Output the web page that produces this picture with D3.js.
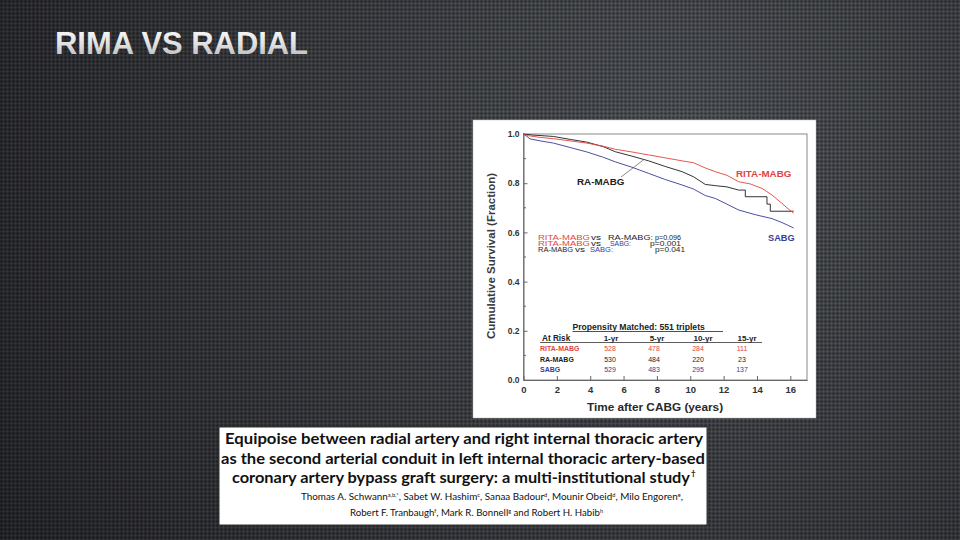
<!DOCTYPE html>
<html>
<head>
<meta charset="utf-8">
<script src="https://cdn.jsdelivr.net/npm/d3@7"></script>
<style>
  html, body { margin: 0; padding: 0; background: #2c2e33; }
  svg { display: block; }
</style>
</head>
<body>
<svg id="slide" width="960" height="540"></svg>
<script>
// survival curves, [years, fraction]
const ritaMabg = [[0,1],[0.3,0.993],[1,0.986],[1.8,0.981],[2.8,0.972],[3.8,0.963],[4.8,0.95],[5.5,0.938],
  [6.5,0.927],[7.5,0.915],[8.5,0.903],[9.5,0.891],[10.2,0.883],[10.9,0.862],[11.5,0.847],[12.2,0.832],
  [12.9,0.806],[13.6,0.797],[14.3,0.779],[14.9,0.752],[15.5,0.718],[15.8,0.7],[16.2,0.678]];
const raMabg = [[0,1],[0.5,0.996],[1.8,0.99],[2.8,0.978],[3.8,0.967],[4.8,0.948],[5.5,0.928],[6.5,0.91],
  [7.5,0.891],[8.5,0.868],[9.5,0.847],[10.2,0.826],[10.9,0.795],[11.5,0.79],[12.2,0.785],[12.9,0.772],
  [13.3,0.772],[13.3,0.745],[14.6,0.745],[14.6,0.715],[14.8,0.715],[14.8,0.686],[16.2,0.686]];
const sabg = [[0,1],[0.4,0.98],[1,0.972],[1.8,0.963],[2.8,0.945],[3.8,0.927],[4.8,0.905],[5.5,0.887],
  [6.5,0.865],[7.5,0.84],[8.5,0.815],[9.5,0.793],[10.2,0.776],[10.9,0.75],[11.5,0.738],[12.2,0.715],
  [12.9,0.691],[13.9,0.672],[14.9,0.656],[15.5,0.64],[16.2,0.618]];

const xTicks = [0, 2, 4, 6, 8, 10, 12, 14, 16];
const yTicks = [0, 0.2, 0.4, 0.6, 0.8, 1.0];
const yMinorTicks = [0.1, 0.3, 0.5, 0.7, 0.9];

// number at risk table
const riskGroups = ["RITA-MABG", "RA-MABG", "SABG"];
const riskYears = ["1-yr", "5-yr", "10-yr", "15-yr"];
const riskCounts = [[528, 478, 284, 111], [530, 484, 220, 23], [529, 483, 295, 137]];

// log-rank comparisons
const comparisons = [
  ["RITA-MABG", "RA-MABG", "p=0.096"],
  ["RITA-MABG", "SABG", "p=0.001"],
  ["RA-MABG", "SABG", "p=0.041"]
];

const titleLines = [
  "Equipoise between radial artery and right internal thoracic artery",
  "as the second arterial conduit in left internal thoracic artery-based",
  "coronary artery bypass graft surgery: a multi-institutional study"
];
const authorLines = [
  [["Thomas A. Schwann", "a,b,*"], [", Sabet W. Hashim", "c"], [", Sanaa Badour", "d"], [", Mounir Obeid", "d"], [", Milo Engoren", "e"], [",", ""]],
  [["Robert F. Tranbaugh", "f"], [", Mark R. Bonnell", "g"], [" and Robert H. Habib", "h"]]
];

const colors = { "RITA-MABG": "#e2453f", "RA-MABG": "#1e1e1e", "SABG": "#3a3d94" };

const svg = d3.select("#slide");

// background: dark carbon texture
const defs = svg.append("defs");
const bg = defs.append("radialGradient").attr("id", "bg")
  .attr("gradientUnits", "userSpaceOnUse")
  .attr("cx", 680).attr("cy", 150).attr("r", 780);
bg.append("stop").attr("offset", 0).attr("stop-color", "#515459");
bg.append("stop").attr("offset", 1).attr("stop-color", "#25262a");

const dots = defs.append("pattern").attr("id", "dots")
  .attr("width", 4).attr("height", 4).attr("patternUnits", "userSpaceOnUse");
dots.append("circle").attr("cx", 1.5).attr("cy", 1.5).attr("r", 1.2).attr("fill", "#000").attr("opacity", 0.4);
dots.append("circle").attr("cx", 3.5).attr("cy", 3.5).attr("r", 0.7).attr("fill", "#fff").attr("opacity", 0.06);

const silver = defs.append("linearGradient").attr("id", "silver")
  .attr("x1", 0).attr("y1", 0).attr("x2", 0).attr("y2", 1);
silver.append("stop").attr("offset", 0).attr("stop-color", "#ffffff");
silver.append("stop").attr("offset", 0.55).attr("stop-color", "#dedede");
silver.append("stop").attr("offset", 1).attr("stop-color", "#b0b0b0");

svg.append("rect").attr("width", 960).attr("height", 540).attr("fill", "url(#bg)");
svg.append("rect").attr("width", 960).attr("height", 540).attr("fill", "url(#dots)");

svg.append("text")
  .attr("x", 55).attr("y", 54)
  .attr("textLength", 253).attr("lengthAdjust", "spacingAndGlyphs")
  .attr("font-family", "Liberation Sans, Arial, sans-serif")
  .attr("font-size", 31).attr("font-weight", "bold")
  .attr("fill", "url(#silver)")
  .text("RIMA VS RADIAL");

// figure panel
svg.append("rect").attr("x", 473).attr("y", 120).attr("width", 343).attr("height", 298)
  .attr("fill", "#fff").attr("stroke", "#bbb").attr("stroke-width", 0.5);

const x = d3.scaleLinear().domain([0, 17]).range([523.5, 807]);
const y = d3.scaleLinear().domain([0, 1]).range([380, 134]);

const fig = svg.append("g").attr("font-family", "Liberation Sans, Arial, sans-serif");

// frame
fig.append("rect")
  .attr("x", x(0)).attr("y", y(1))
  .attr("width", x(17) - x(0)).attr("height", y(0) - y(1))
  .attr("fill", "none").attr("stroke", "#8a8a8a").attr("stroke-width", 1);

const xAxis = fig.append("g")
  .attr("transform", `translate(0,${y(0)})`)
  .call(d3.axisBottom(x).tickValues(xTicks).tickSizeInner(-4).tickSizeOuter(0).tickPadding(6));
xAxis.select(".domain").attr("stroke", "#666");
xAxis.selectAll(".tick line").attr("stroke", "#666");
xAxis.selectAll(".tick text")
  .attr("font-size", 9.5).attr("font-weight", "bold").attr("fill", "#333")
  .attr("font-family", "Liberation Sans, Arial, sans-serif");

const yAxis = fig.append("g")
  .attr("transform", `translate(${x(0)},0)`)
  .call(d3.axisLeft(y).tickValues(yTicks).tickFormat(d3.format(".1f"))
    .tickSizeInner(-4).tickSizeOuter(0).tickPadding(4));
yAxis.select(".domain").attr("stroke", "#666");
yAxis.selectAll(".tick line").attr("stroke", "#666");
yAxis.selectAll(".tick text")
  .attr("font-size", 8.5).attr("font-weight", "bold").attr("fill", "#333")
  .attr("font-family", "Liberation Sans, Arial, sans-serif");

fig.append("g").selectAll("line").data(yMinorTicks).join("line")
  .attr("x1", x(0)).attr("x2", x(0) + 2.5)
  .attr("y1", d => y(d)).attr("y2", d => y(d))
  .attr("stroke", "#666");

fig.append("text")
  .attr("transform", `translate(495,256) rotate(-90)`)
  .attr("text-anchor", "middle")
  .attr("font-size", 11.5).attr("font-weight", "bold").attr("fill", "#3a3a3a")
  .text("Cumulative Survival (Fraction)");

fig.append("text")
  .attr("x", 655).attr("y", 411)
  .attr("text-anchor", "middle")
  .attr("font-size", 11.8).attr("font-weight", "bold").attr("fill", "#2a2a2a")
  .text("Time after CABG (years)");

// curves
const line = d3.line().x(d => x(d[0])).y(d => y(d[1]));
const series = [["SABG", sabg], ["RA-MABG", raMabg], ["RITA-MABG", ritaMabg]];
fig.append("g").selectAll("path").data(series).join("path")
  .attr("d", d => line(d[1]))
  .attr("fill", "none")
  .attr("stroke", d => colors[d[0]])
  .attr("stroke-width", 1)
  .attr("opacity", 0.9);

// curve labels
fig.append("text").attr("x", 736).attr("y", 177)
  .attr("font-size", 9.8).attr("font-weight", "bold").attr("fill", colors["RITA-MABG"]).text("RITA-MABG");
fig.append("text").attr("x", 577).attr("y", 185)
  .attr("font-size", 9.8).attr("font-weight", "bold").attr("fill", "#222").text("RA-MABG");
fig.append("line")
  .attr("x1", 621).attr("y1", 177).attr("x2", x(7.2)).attr("y2", y(0.895))
  .attr("stroke", "#555").attr("stroke-width", 0.7);
fig.append("text").attr("x", 768).attr("y", 241)
  .attr("font-size", 9.2).attr("font-weight", "bold").attr("fill", colors["SABG"]).text("SABG");

// p values: each piece stretched to the width it has in the figure
const pRow = d3.scalePoint().domain(d3.range(comparisons.length)).range([239.5, 251.5]);
const pLayout = [
  [[538, 52], [591, 10], [608, 45], [655, 26]],
  [[538, 52], [591, 10], [610, 21], [650, 31]],
  [[538, 35], [575, 10], [590, 23], [655, 30]]
];
comparisons.forEach((c, i) => {
  const pieces = [[c[0], colors[c[0]]], ["vs", "#222"], [c[1] + ":", colors[c[1]]], [c[2], "#222"]];
  fig.append("g").selectAll("text").data(pieces).join("text")
    .attr("x", (d, j) => pLayout[i][j][0])
    .attr("y", pRow(i))
    .attr("textLength", (d, j) => pLayout[i][j][1])
    .attr("lengthAdjust", "spacingAndGlyphs")
    .attr("font-size", 7)
    .attr("fill", d => d[1])
    .text(d => d[0]);
});

// at risk table
fig.append("text").attr("x", 572.5).attr("y", 329.5)
  .attr("font-size", 8.6).attr("font-weight", "bold").attr("fill", "#222")
  .text("Propensity Matched: 551 triplets");
fig.append("line").attr("x1", 572.5).attr("x2", 723).attr("y1", 331.5).attr("y2", 331.5)
  .attr("stroke", "#222").attr("stroke-width", 0.8);

fig.append("text").attr("x", 542).attr("y", 341)
  .attr("font-size", 8.2).attr("font-weight", "bold").attr("fill", "#222").text("At Risk");
const col = d3.scalePoint().domain(riskYears).range([610, 742]);
fig.append("g").selectAll("text").data(riskYears).join("text")
  .attr("x", (d, i) => col(d) + [1, 3, 5, 5][i]).attr("y", 341)
  .attr("text-anchor", "middle")
  .attr("font-size", 8).attr("font-weight", "bold").attr("fill", "#222")
  .text(d => d);
fig.append("line").attr("x1", 540).attr("x2", 762).attr("y1", 342.5).attr("y2", 342.5)
  .attr("stroke", "#333").attr("stroke-width", 0.8);

const row = d3.scalePoint().domain(riskGroups).range([351, 372]);
riskGroups.forEach((g, gi) => {
  fig.append("text").attr("x", 540).attr("y", row(g))
    .attr("font-size", 7).attr("font-weight", "bold").attr("fill", colors[g]).text(g);
  fig.append("g").selectAll("text").data(riskCounts[gi]).join("text")
    .attr("x", (d, i) => col(riskYears[i]))
    .attr("y", row(g))
    .attr("text-anchor", "middle")
    .attr("font-size", 7).attr("fill", colors[g])
    .text(d => d);
});

// paper title panel
svg.append("rect").attr("x", 219).attr("y", 427).attr("width", 488).attr("height", 98)
  .attr("fill", "#fff").attr("stroke", "#333").attr("stroke-width", 1);

const paper = svg.append("g").attr("font-family", "Lato, 'Open Sans', sans-serif").attr("fill", "#111");
const titleY = [444, 463.5, 483];
const titleSpan = [[225, 703], [221, 705], [232, 690]];
titleLines.forEach((t, i) => {
  paper.append("text")
    .attr("x", titleSpan[i][0]).attr("y", titleY[i])
    .attr("textLength", titleSpan[i][1] - titleSpan[i][0])
    .attr("lengthAdjust", "spacingAndGlyphs")
    .attr("font-size", 15.2).attr("font-weight", "bold")
    .text(t);
});
paper.append("text").attr("x", 691).attr("y", 476).attr("font-size", 8).attr("font-weight", "bold").text("†");

const authorY = [500, 515.5];
const authorSpan = [[301, 683], [350, 603]];
authorLines.forEach((parts, i) => {
  const t = paper.append("text")
    .attr("x", authorSpan[i][0]).attr("y", authorY[i])
    .attr("textLength", authorSpan[i][1] - authorSpan[i][0])
    .attr("lengthAdjust", "spacingAndGlyphs")
    .attr("font-size", 9.6);
  parts.forEach(p => {
    t.append("tspan").text(p[0]);
    if (p[1]) {
      t.append("tspan").attr("font-size", 5.5).attr("baseline-shift", "super").text(p[1]);
    }
  });
});
</script>
</body>
</html>
